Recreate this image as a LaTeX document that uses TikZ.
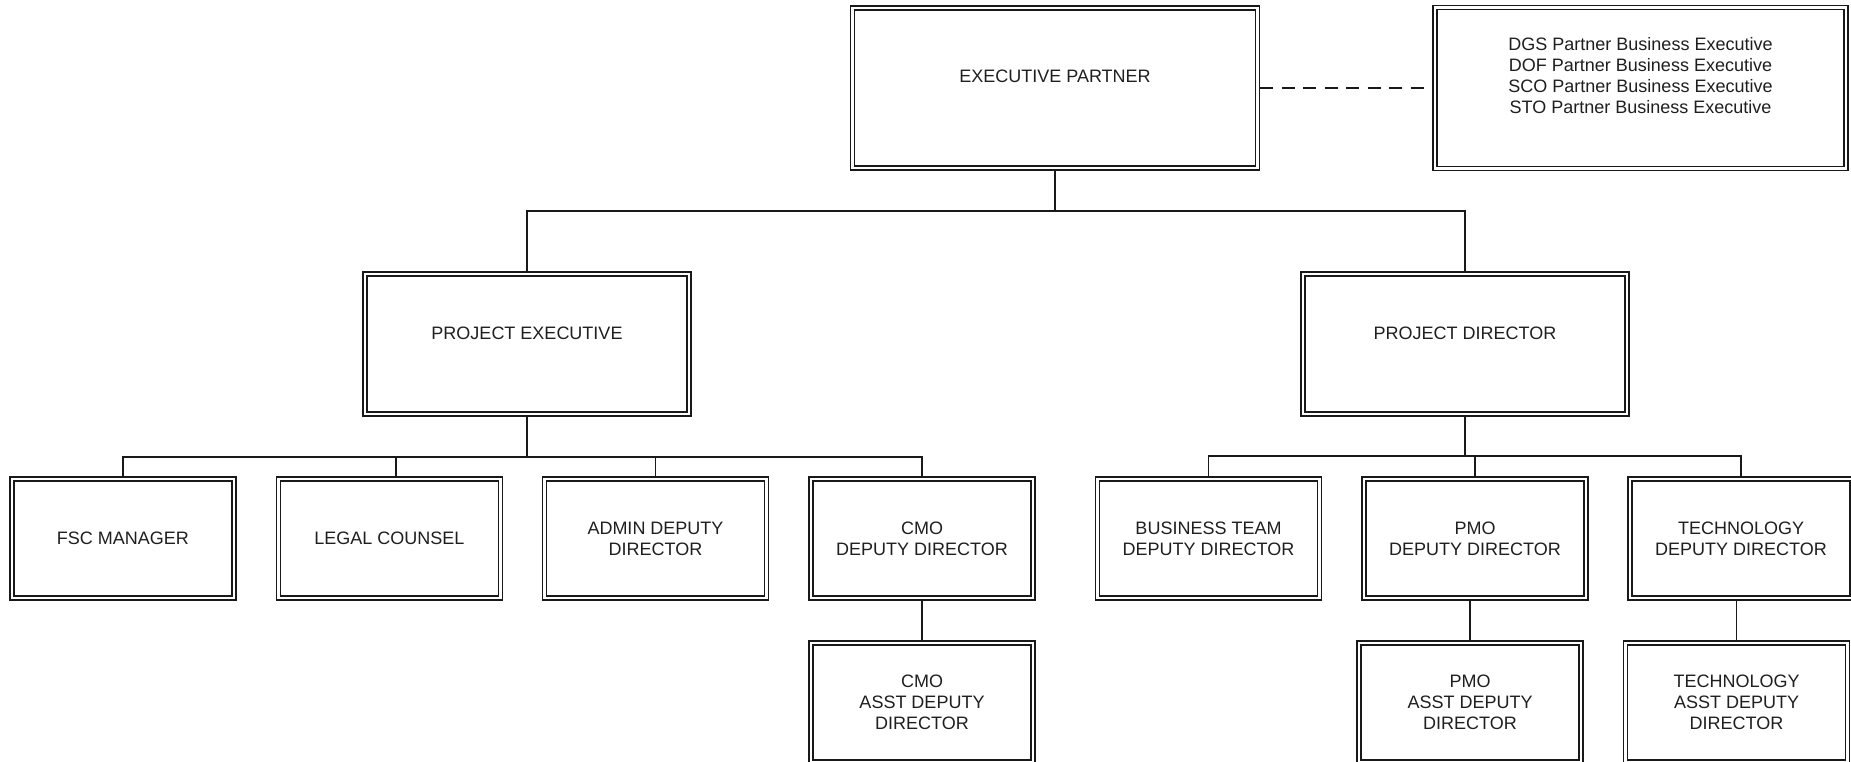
\documentclass[tikz,border=0pt]{standalone}
\usepackage{fontspec}
\setmainfont{Liberation Sans}
\begin{document}
\begin{tikzpicture}[x=1bp,y=-1bp,
  box/.style={draw=black!90, double=white, double distance=2.7bp, line width=1.3bp,
    align=center, inner sep=0bp, outer sep=2.65bp, text=black!88,
    font=\fontsize{18bp}{21bp}\selectfont},
  smallbox/.style={box, minimum width=222bp, minimum height=119bp},
  bigbox/.style={box, minimum width=324bp, minimum height=140bp},
  conn/.style={draw=black!90, line width=1.4bp}]
\useasboundingbox (0,0) rectangle (1851,762);
\fill[white] (0,0) rectangle (1851,762);

% top level
\node[box, minimum width=405bp, minimum height=160bp] (ep) at (1055,88) {EXECUTIVE PARTNER\\[3bp]\mbox{}};
\node[box, minimum width=411bp, minimum height=161bp] (dgs) at (1640.5,88) {DGS Partner Business Executive\\DOF Partner Business Executive\\SCO Partner Business Executive\\STO Partner Business Executive\\[5bp]\mbox{}};

% second level
\node[bigbox] (pe) at (527,344) {PROJECT EXECUTIVE\\[1bp]\mbox{}};
\node[bigbox] (pd) at (1465,344) {PROJECT DIRECTOR\\[1bp]\mbox{}};

% third level
\node[smallbox] (fsc) at (123,538.5) {FSC MANAGER};
\node[smallbox] (lc) at (389.5,538.5) {LEGAL COUNSEL};
\node[smallbox] (admin) at (655.5,538.5) {ADMIN DEPUTY\\DIRECTOR};
\node[smallbox] (cmodd) at (922,538.5) {CMO\\DEPUTY DIRECTOR};
\node[smallbox] (btdd) at (1208.5,538.5) {BUSINESS TEAM\\DEPUTY DIRECTOR};
\node[smallbox] (pmodd) at (1475,538.5) {PMO\\DEPUTY DIRECTOR};
\node[smallbox] (techdd) at (1741,538.5) {TECHNOLOGY\\DEPUTY DIRECTOR};

% fourth level
\node[smallbox] (cmoasst) at (922,702.5) {CMO\\ASST DEPUTY\\DIRECTOR};
\node[smallbox] (pmoasst) at (1470,702.5) {PMO\\ASST DEPUTY\\DIRECTOR};
\node[smallbox] (techasst) at (1736.5,702.5) {TECHNOLOGY\\ASST DEPUTY\\DIRECTOR};

% connectors
\draw[conn, dash pattern=on 13bp off 8.5bp] (ep.east) -- (ep.east -| dgs.west);

\coordinate (busA) at (1055,211);
\draw[conn] (ep.south) -- (busA);
\draw[conn] (pe.north) |- (busA) -| (pd.north);

\coordinate (busB) at (527,457);
\draw[conn] (pe.south) -- (busB);
\draw[conn] (fsc.north) |- (busB) -| (cmodd.north);
\draw[conn] (busB) -| ([xshift=6.5bp]lc.north);
\draw[conn] (busB) -| (admin.north);

\coordinate (busC) at (1465,456);
\draw[conn] (pd.south) -- (busC);
\draw[conn] (btdd.north) |- (busC) -| (techdd.north);
\draw[conn] (busC) -| (pmodd.north);

\draw[conn] (cmoasst.north |- cmodd.south) -- (cmoasst.north);
\draw[conn] (pmoasst.north |- pmodd.south) -- (pmoasst.north);
\draw[conn] (techasst.north |- techdd.south) -- (techasst.north);
\end{tikzpicture}
\end{document}
